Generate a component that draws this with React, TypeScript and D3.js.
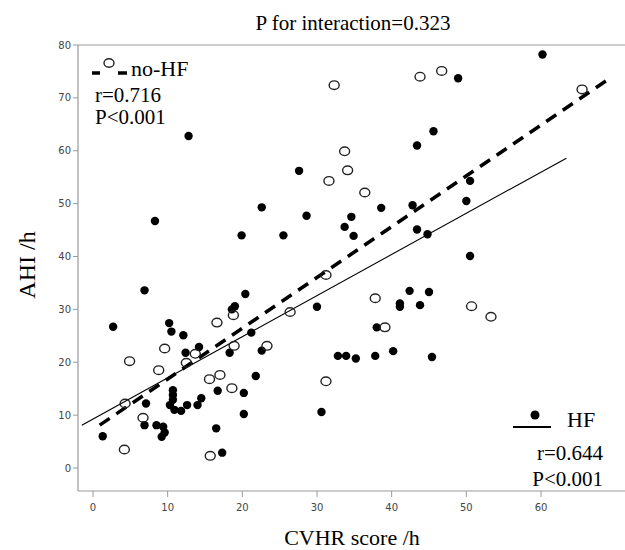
import React from "react";
import * as d3 from "d3";

// CVHR score /h vs AHI /h
const hfPoints: [number, number][] = [
  [6.9, 33.6], [2.7, 26.7], [20.4, 32.9], [10.2, 27.4], [10.5, 25.8], [12.1, 25.1],
  [19.0, 30.6], [18.6, 30.0], [12.4, 21.8], [14.2, 22.9], [18.3, 21.8], [21.2, 25.6],
  [21.8, 17.4], [10.7, 14.7], [10.7, 13.8], [10.7, 12.9], [10.3, 11.9], [10.9, 11.0],
  [11.8, 10.8], [12.6, 11.9], [14.0, 11.9], [14.5, 13.2], [16.7, 14.6], [20.2, 14.2],
  [20.2, 10.2], [16.5, 7.5], [17.3, 2.9], [7.1, 12.2], [6.9, 8.1], [8.5, 8.1],
  [9.4, 7.8], [9.6, 6.7], [9.2, 5.9], [1.3, 6.0], [12.8, 62.8], [8.3, 46.7],
  [19.9, 44.0], [27.6, 56.2], [22.6, 49.3], [28.6, 47.7], [34.6, 47.5], [38.6, 49.2],
  [42.8, 49.7], [33.7, 45.6], [43.4, 45.1], [25.5, 44.0], [34.9, 43.9], [44.8, 44.2],
  [45.6, 63.7], [43.4, 61.0], [30.0, 30.5], [22.6, 22.2], [42.4, 33.5], [45.0, 33.3],
  [41.1, 31.1], [41.1, 30.5], [43.8, 30.8], [38.0, 26.6], [32.8, 21.2], [33.9, 21.2],
  [35.2, 20.7], [37.8, 21.2], [40.2, 22.1], [45.4, 21.0], [30.6, 10.6], [60.2, 78.2],
  [48.9, 73.7], [50.5, 54.3], [50.0, 50.5], [50.5, 40.1],
];

const noHfPoints: [number, number][] = [
  [4.9, 20.2], [9.6, 22.6], [8.8, 18.5], [12.5, 19.9], [13.7, 21.6], [16.6, 27.5],
  [18.8, 28.9], [18.9, 23.1], [15.6, 16.8], [17.0, 17.6], [18.6, 15.1], [6.7, 9.5],
  [4.2, 3.5], [15.7, 2.3], [4.3, 12.2], [32.3, 72.4], [43.8, 74.0], [46.7, 75.1],
  [33.7, 59.9], [34.1, 56.3], [31.6, 54.3], [36.4, 52.1], [31.2, 36.5], [26.4, 29.5],
  [23.3, 23.1], [37.8, 32.1], [39.1, 26.6], [31.2, 16.4], [65.5, 71.6], [50.7, 30.6],
  [53.3, 28.6],
];

// fitted lines, end points as drawn
const hfLine: [number, number][] = [[-1.5, 8.1], [63.4, 58.6]];
const noHfLine: [number, number][] = [[0.9, 8.1], [68.8, 73.3]];

const xTicks = [0, 10, 20, 30, 40, 50, 60];
const yTicks = [0, 10, 20, 30, 40, 50, 60, 70, 80];

const serif = "'Liberation Serif', 'Times New Roman', serif";
const sans = "'DejaVu Sans', Verdana, sans-serif";

const App = () => {
  const width = 625;
  const height = 550;
  const frame = { left: 78, right: 630, top: 45, bottom: 491 };

  const x = d3.scaleLinear().domain([0, 60]).range([93, 541]);
  const y = d3.scaleLinear().domain([0, 80]).range([468, 45]);

  const line = d3
    .line<[number, number]>()
    .x((d) => x(d[0]))
    .y((d) => y(d[1]));

  return (
    <svg
      width={width}
      height={height}
      style={{ position: "absolute", left: 0, top: 0, background: "#fff" }}
    >
      <text x={353} y={30} textAnchor="middle" fontFamily={serif} fontSize={21}>
        P for interaction=0.323
      </text>

      {/* frame */}
      <g stroke="#9a9a9a" strokeWidth={1.2} fill="none">
        <line x1={frame.left} x2={frame.right} y1={frame.top} y2={frame.top} />
        <line x1={frame.left} x2={frame.left} y1={frame.top} y2={frame.bottom} />
        <line x1={frame.left} x2={frame.right} y1={frame.bottom} y2={frame.bottom} />
      </g>

      {/* y axis */}
      {yTicks.map((t) => (
        <g key={"y" + t}>
          <line x1={frame.left - 5} x2={frame.left} y1={y(t)} y2={y(t)} stroke="#9a9a9a" />
          <text
            x={frame.left - 7}
            y={y(t)}
            textAnchor="end"
            dominantBaseline="central"
            fontFamily={sans}
            fontSize={10}
            fill="#444"
          >
            {t}
          </text>
        </g>
      ))}

      {/* x axis */}
      {xTicks.map((t) => (
        <g key={"x" + t}>
          <line x1={x(t)} x2={x(t)} y1={frame.bottom} y2={frame.bottom + 6} stroke="#9a9a9a" />
          <text
            x={x(t)}
            y={frame.bottom + 16}
            textAnchor="middle"
            dominantBaseline="central"
            fontFamily={sans}
            fontSize={10}
            fill="#444"
          >
            {t}
          </text>
        </g>
      ))}

      <text x={352} y={545} textAnchor="middle" fontFamily={serif} fontSize={22}>
        CVHR score /h
      </text>
      <text
        transform="translate(35, 265) rotate(-90)"
        textAnchor="middle"
        fontFamily={serif}
        fontSize={24}
      >
        AHI /h
      </text>

      {/* regression lines */}
      <path d={line(hfLine) || ""} stroke="#000" strokeWidth={1.1} fill="none" />
      <path
        d={line(noHfLine) || ""}
        stroke="#000"
        strokeWidth={3.5}
        strokeDasharray="12 8"
        fill="none"
      />

      {/* points */}
      {hfPoints.map((d, i) => (
        <circle key={"h" + i} cx={x(d[0])} cy={y(d[1])} r={4.2} fill="#000" />
      ))}
      {noHfPoints.map((d, i) => (
        <ellipse
          key={"n" + i}
          cx={x(d[0])}
          cy={y(d[1])}
          rx={5}
          ry={4.3}
          fill="none"
          stroke="#222"
          strokeWidth={1.4}
        />
      ))}

      {/* legend no-HF */}
      <g>
        <line x1={92} x2={100} y1={73} y2={73} stroke="#000" strokeWidth={3.5} />
        <line x1={118} x2={127} y1={73} y2={73} stroke="#000" strokeWidth={3.5} />
        <ellipse cx={109} cy={63} rx={5} ry={4.3} fill="none" stroke="#222" strokeWidth={1.4} />
        <text x={131} y={76} fontFamily={serif} fontSize={22}>
          no-HF
        </text>
        <text x={95} y={102} fontFamily={serif} fontSize={21}>
          r=0.716
        </text>
        <text x={95} y={124} fontFamily={serif} fontSize={21}>
          P&lt;0.001
        </text>
      </g>

      {/* legend HF */}
      <g>
        <circle cx={535} cy={415} r={4.5} fill="#000" />
        <line x1={513} x2={551} y1={427} y2={427} stroke="#000" strokeWidth={2} />
        <text x={567} y={427} fontFamily={serif} fontSize={22}>
          HF
        </text>
        <text x={603} y={460} textAnchor="end" fontFamily={serif} fontSize={21}>
          r=0.644
        </text>
        <text x={603} y={486} textAnchor="end" fontFamily={serif} fontSize={21}>
          P&lt;0.001
        </text>
      </g>
    </svg>
  );
};

export default App;
